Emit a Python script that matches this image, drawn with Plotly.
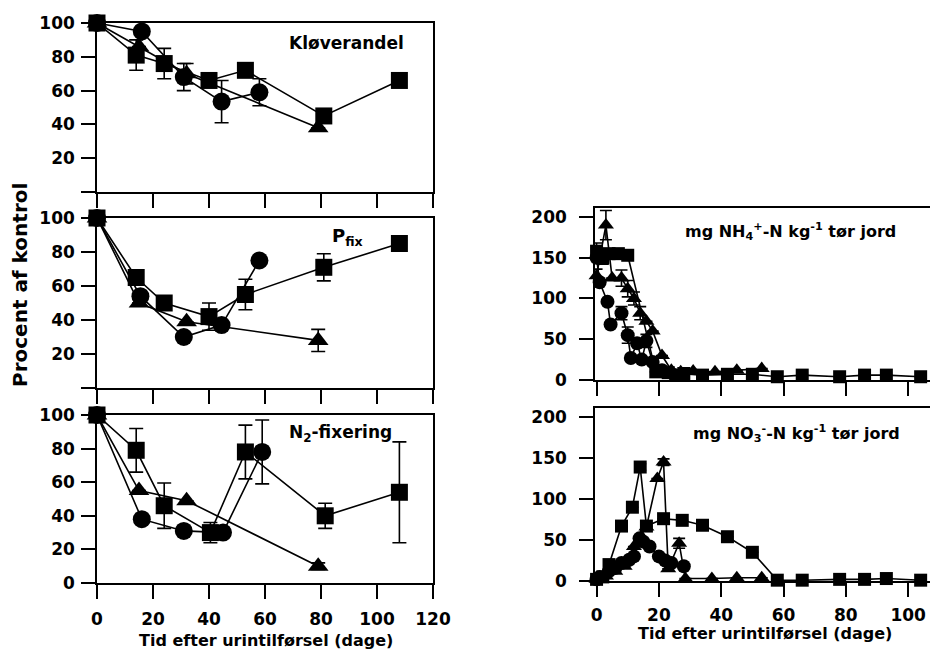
import plotly.graph_objects as go

# ---------------- data ----------------
# Left panels (percent of control); x = days after urine application
klo_sq_x = [0, 14, 24, 40, 53, 81, 108]
klo_sq_y = [100, 81, 76, 66, 72, 45, 66]
klo_sq_e = [0, 9, 9, 0, 0, 3, 3]
klo_ci_x = [0, 16, 31, 44.5, 58]
klo_ci_y = [100, 95, 68, 53.5, 59]
klo_ci_e = [0, 0, 8, 12.5, 8]
klo_tr_x = [0, 15, 32, 79]
klo_tr_y = [100, 86, 70, 38]
klo_tr_e = [0, 0, 6, 0]

pf_sq_x = [0, 14, 24, 40, 53, 81, 108]
pf_sq_y = [100, 65, 50, 42, 55, 71, 85]
pf_sq_e = [0, 0, 0, 8, 9, 8, 0]
pf_ci_x = [0, 15.5, 31, 44.5, 58]
pf_ci_y = [100, 54, 30, 37, 75]
pf_ci_e = [0, 0, 0, 0, 0]
pf_tr_x = [0, 15, 32, 79]
pf_tr_y = [100, 50, 39, 28]
pf_tr_e = [0, 0, 0, 6.5]

n2_sq_x = [0, 14, 24, 40.5, 53, 81.5, 108]
n2_sq_y = [100, 79, 46, 30, 78, 40, 54]
n2_sq_e = [0, 13, 13.5, 6, 16, 7.5, 30]
n2_ci_x = [0, 16, 31, 45, 59]
n2_ci_y = [100, 38, 31, 30, 78]
n2_ci_e = [0, 0, 0, 0, 19]
n2_tr_x = [0, 15, 32, 79]
n2_tr_y = [100, 55, 49, 10]
n2_tr_e = [0, 0, 0, 2]

# Right panels (mg N per kg dry soil)
nh_sq_x = [0, 2, 4, 7, 10, 19, 23, 28, 34, 42, 50, 58, 66, 78, 86, 93, 104]
nh_sq_y = [158, 150, 155, 155, 153, 10, 9, 8, 6, 7, 7, 4, 6, 4, 6, 6, 4]
nh_sq_e = [10, 8, 0, 0, 0, 0, 0, 0, 0, 0, 0, 0, 0, 0, 0, 0, 0]
nh_ci_x = [0, 1, 3.5, 4.5, 8, 10, 11, 13, 14.5, 16, 18, 21, 25]
nh_ci_y = [150, 120, 96, 68, 82, 55, 27, 45, 25, 48, 22, 12, 6]
nh_ci_e = [0, 0, 0, 0, 8, 10, 0, 0, 0, 8, 0, 0, 0]
nh_tr_x = [0, 3, 5, 8, 10, 12, 14, 16, 18, 21, 24, 27, 31, 38, 45, 53]
nh_tr_y = [128, 190, 125, 125, 112, 100, 82, 72, 60, 30, 12, 10, 11, 10, 12, 14]
nh_tr_e = [8, 18, 0, 10, 10, 8, 8, 0, 0, 0, 0, 0, 0, 0, 0, 0]

no_sq_x = [0, 2, 4, 8, 11.5, 14, 16, 21.5, 27.5, 34, 42, 50, 58, 66, 78, 86, 93, 104]
no_sq_y = [2, 5, 20, 67, 90, 139, 67, 76, 74, 68, 54, 35, 1, 1, 2, 2, 3, 1]
no_sq_e = [0, 0, 0, 0, 0, 4, 0, 0, 0, 0, 0, 0, 0, 0, 0, 0, 0, 0]
no_ci_x = [0, 1, 4, 6, 8, 10.5, 12, 13.8, 15, 17, 20, 22, 24, 28]
no_ci_y = [2, 5, 12, 16, 22, 26, 30, 52, 48, 42, 30, 25, 22, 18]
no_ci_e = [0] * 14
no_tr_x = [0, 3, 6, 9, 12, 16, 19.5, 21.5, 23, 26.5, 28.5, 37, 45, 53]
no_tr_y = [2, 6, 12, 18, 42, 66, 125, 145, 15, 46, 3, 3, 4, 4]
no_tr_e = [0, 0, 0, 0, 0, 0, 0, 4, 0, 6, 0, 0, 0, 0]

left_xticks = [0, 20, 40, 60, 80, 100, 120]
left_yticks = [0, 20, 40, 60, 80, 100]
right_xticks = [0, 20, 40, 60, 80, 100]
right_yticks = [0, 50, 100, 150, 200]

# ---------------- figure ----------------
W, H = 930, 652
FONT = "DejaVu Sans"
fig = go.Figure()


def px_x(p):
    return p / W


def px_y(p):
    return 1 - p / H


def add(xs, ys, es, symbol, size, ax, ew):
    fig.add_trace(go.Scatter(
        x=xs, y=ys, mode="lines+markers",
        marker=dict(symbol=symbol, size=size, color="black", line=dict(width=0)),
        line=dict(color="black", width=1.6),
        error_y=dict(type="data", array=es, visible=True, color="black",
                     thickness=1.6, width=ew),
        xaxis="x" + ax, yaxis="y" + ax, cliponaxis=False, showlegend=False,
    ))


LS, LC, LT = 17, 18, 18
panels = [
    ("", [(klo_sq_x, klo_sq_y, klo_sq_e, "square", LS),
          (klo_ci_x, klo_ci_y, klo_ci_e, "circle", LC),
          (klo_tr_x, klo_tr_y, klo_tr_e, "triangle-up", LT)]),
    ("2", [(pf_sq_x, pf_sq_y, pf_sq_e, "square", LS),
           (pf_ci_x, pf_ci_y, pf_ci_e, "circle", LC),
           (pf_tr_x, pf_tr_y, pf_tr_e, "triangle-up", LT)]),
    ("3", [(n2_sq_x, n2_sq_y, n2_sq_e, "square", LS),
           (n2_ci_x, n2_ci_y, n2_ci_e, "circle", LC),
           (n2_tr_x, n2_tr_y, n2_tr_e, "triangle-up", LT)]),
]
for ax, series in panels:
    for xs, ys, es, sym, sz in series:
        add(xs, ys, es, sym, sz, ax, 7)

RS = 14
for ax, series in [
    ("4", [(nh_tr_x, nh_tr_y, nh_tr_e, "triangle-up", RS),
           (nh_ci_x, nh_ci_y, nh_ci_e, "circle", RS),
           (nh_sq_x, nh_sq_y, nh_sq_e, "square", RS - 1)]),
    ("5", [(no_tr_x, no_tr_y, no_tr_e, "triangle-up", RS),
           (no_ci_x, no_ci_y, no_ci_e, "circle", RS),
           (no_sq_x, no_sq_y, no_sq_e, "square", RS - 1)]),
]:
    for xs, ys, es, sym, sz in series:
        add(xs, ys, es, sym, sz, ax, 6)

tickfont = dict(family=FONT, size=17, color="black", weight="bold")
base = dict(showline=True, linecolor="black", linewidth=1.6, ticks="outside",
            ticklen=14, tickwidth=1.6, tickcolor="black", showgrid=False,
            zeroline=False, tickfont=tickfont, layer="below traces",
            fixedrange=True, automargin=False)

lx = [px_x(97), px_x(433)]
rx = [px_x(595), 1.0]
left_rows = [(23, 192), (218, 388), (415, 583)]
right_rows = [(208, 380), (408, 581)]

layout = {}
for i, (top, bot) in enumerate(left_rows):
    n = "" if i == 0 else str(i + 1)
    last = i == 2
    layout["xaxis" + n] = dict(base, domain=lx, range=[0, 120], anchor="y" + n,
                               mirror=True, tickmode="array", tickvals=left_xticks,
                               ticktext=[str(v) for v in left_xticks] if last else [""] * len(left_xticks),
                               ticklabelstandoff=6)
    layout["yaxis" + n] = dict(base, domain=[px_y(bot), px_y(top)], range=[0, 100],
                               anchor="x" + n, mirror=True, tickmode="array",
                               tickvals=left_yticks,
                               ticktext=[str(v) if (last or v > 0) else "" for v in left_yticks],
                               ticklabelstandoff=3)
for j, (top, bot) in enumerate(right_rows):
    n = str(4 + j)
    last = j == 1
    layout["xaxis" + n] = dict(base, domain=rx, range=[-0.5, 107], anchor="y" + n,
                               mirror=True, tickmode="array", tickvals=right_xticks,
                               ticktext=[str(v) for v in right_xticks] if last else [""] * len(right_xticks),
                               ticklabelstandoff=4)
    layout["yaxis" + n] = dict(base, domain=[px_y(bot), px_y(top)], range=[0, 211],
                               anchor="x" + n, mirror=False, tickmode="array",
                               tickvals=right_yticks, ticktext=[str(v) for v in right_yticks],
                               ticklabelstandoff=9)


def ann(text, x, y, size, angle=0):
    return dict(text=text, x=px_x(x), y=px_y(y), xref="paper", yref="paper",
                showarrow=False, xanchor="center", yanchor="middle", textangle=angle,
                font=dict(family=FONT, size=size, color="black", weight="bold"))


annotations = [
    ann("Kløverandel", 346, 43, 17),
    ann("P<sub>fix</sub>", 347, 237, 18),
    ann("N<sub>2</sub>-fixering", 340, 433, 17),
    ann("mg NH<sub>4</sub><sup>+</sup>-N kg<sup>-1</sup> tør jord", 790, 231, 16),
    ann("mg NO<sub>3</sub><sup>-</sup>-N kg<sup>-1</sup> tør jord", 796, 433, 16),
    ann("Tid efter urintilførsel (dage)", 266, 640, 16),
    ann("Tid efter urintilførsel (dage)", 765, 633, 16),
    ann("Procent af kontrol", 20, 285, 20, angle=-90),
]

fig.update_layout(
    width=W, height=H,
    margin=dict(l=0, r=0, t=0, b=0, pad=0, autoexpand=False),
    paper_bgcolor="white", plot_bgcolor="white",
    annotations=annotations, showlegend=False,
    **layout,
)

fig.write_html("out.html", config={"displayModeBar": False})
